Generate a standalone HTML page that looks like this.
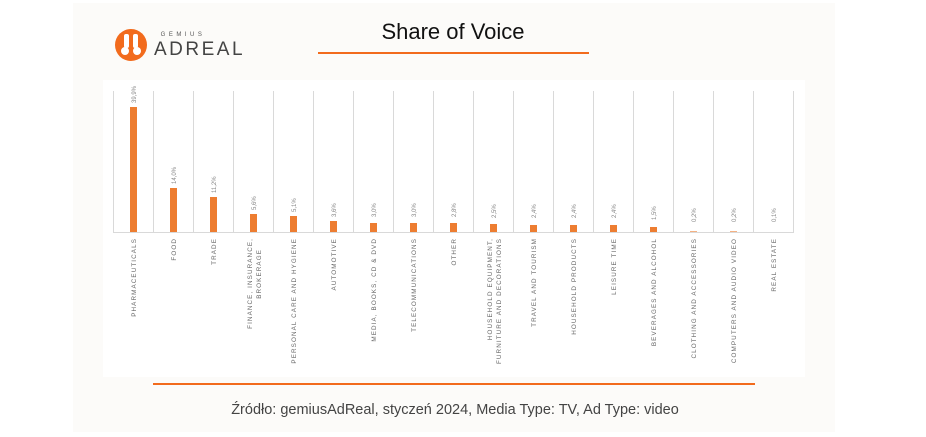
<!DOCTYPE html>
<html><head><meta charset="utf-8"><style>
html,body{margin:0;padding:0;background:#fff;}
svg{display:block;font-family:"Liberation Sans",sans-serif;}
</style></head><body>
<svg width="926" height="437" viewBox="0 0 926 437" xmlns="http://www.w3.org/2000/svg">
<rect x="73" y="3" width="762" height="429" fill="#fcfbf9"/>
<rect x="103" y="80" width="702" height="297" fill="#ffffff"/>
<!-- logo -->
<circle cx="131" cy="45" r="16" fill="#f26b1d"/>
<rect x="124" y="34" width="5" height="14" rx="2" fill="#fff"/>
<rect x="133" y="34" width="5" height="14" rx="2" fill="#fff"/>
<circle cx="125" cy="51" r="4" fill="#fff"/>
<circle cx="137" cy="51" r="4" fill="#fff"/>
<text x="183" y="36" font-size="6" fill="#555" letter-spacing="3.5" text-anchor="middle">GEMIUS</text>
<text x="154" y="55" font-size="19" fill="#444" letter-spacing="2.5">ADREAL</text>
<text x="453" y="39" font-size="22" fill="#111" text-anchor="middle">Share of Voice</text>
<rect x="318" y="52" width="271" height="2" fill="#f26b1d"/>
<g stroke="#d9d9d9" stroke-width="1">
<line x1="113.5" y1="91" x2="113.5" y2="232"/><line x1="153.5" y1="91" x2="153.5" y2="232"/><line x1="193.5" y1="91" x2="193.5" y2="232"/><line x1="233.5" y1="91" x2="233.5" y2="232"/><line x1="273.5" y1="91" x2="273.5" y2="232"/><line x1="313.5" y1="91" x2="313.5" y2="232"/><line x1="353.5" y1="91" x2="353.5" y2="232"/><line x1="393.5" y1="91" x2="393.5" y2="232"/><line x1="433.5" y1="91" x2="433.5" y2="232"/><line x1="473.5" y1="91" x2="473.5" y2="232"/><line x1="513.5" y1="91" x2="513.5" y2="232"/><line x1="553.5" y1="91" x2="553.5" y2="232"/><line x1="593.5" y1="91" x2="593.5" y2="232"/><line x1="633.5" y1="91" x2="633.5" y2="232"/><line x1="673.5" y1="91" x2="673.5" y2="232"/><line x1="713.5" y1="91" x2="713.5" y2="232"/><line x1="753.5" y1="91" x2="753.5" y2="232"/><line x1="793.5" y1="91" x2="793.5" y2="232"/>
<line x1="113" y1="232.5" x2="794" y2="232.5"/>
</g>
<g fill="#ed7d31">
<rect x="130" y="107" width="7" height="125"/>
<rect x="170" y="188" width="7" height="44"/>
<rect x="210" y="197" width="7" height="35"/>
<rect x="250" y="214" width="7" height="18"/>
<rect x="290" y="216" width="7" height="16"/>
<rect x="330" y="221" width="7" height="11"/>
<rect x="370" y="223" width="7" height="9"/>
<rect x="410" y="223" width="7" height="9"/>
<rect x="450" y="223" width="7" height="9"/>
<rect x="490" y="224" width="7" height="8"/>
<rect x="530" y="225" width="7" height="7"/>
<rect x="570" y="225" width="7" height="7"/>
<rect x="610" y="225" width="7" height="7"/>
<rect x="650" y="227" width="7" height="5"/>
<rect x="690" y="231" width="7" height="1" fill="#f4b183"/>
<rect x="730" y="231" width="7" height="1" fill="#f4b183"/>
</g>
<g font-size="6" fill="#888">
<text transform="translate(136,103) rotate(-90)">39,9%</text>
<text transform="translate(176,184) rotate(-90)">14,0%</text>
<text transform="translate(216,193) rotate(-90)">11,2%</text>
<text transform="translate(256,210) rotate(-90)">5,6%</text>
<text transform="translate(296,212) rotate(-90)">5,1%</text>
<text transform="translate(336,217) rotate(-90)">3,6%</text>
<text transform="translate(376,217) rotate(-90)">3,0%</text>
<text transform="translate(416,217) rotate(-90)">3,0%</text>
<text transform="translate(456,217) rotate(-90)">2,8%</text>
<text transform="translate(496,218) rotate(-90)">2,5%</text>
<text transform="translate(536,218) rotate(-90)">2,4%</text>
<text transform="translate(576,218) rotate(-90)">2,4%</text>
<text transform="translate(616,218) rotate(-90)">2,4%</text>
<text transform="translate(656,220) rotate(-90)">1,5%</text>
<text transform="translate(696,222) rotate(-90)">0,2%</text>
<text transform="translate(736,222) rotate(-90)">0,2%</text>
<text transform="translate(776,222) rotate(-90)">0,1%</text>
</g>
<g font-size="6.3" fill="#666" letter-spacing="1.1" text-anchor="end">
<text transform="translate(136,238) rotate(-90)">PHARMACEUTICALS</text>
<text transform="translate(176,238) rotate(-90)">FOOD</text>
<text transform="translate(216,238) rotate(-90)">TRADE</text>
<text transform="translate(252,238) rotate(-90)">FINANCE, INSURANCE,</text>
<text transform="translate(261,249) rotate(-90)">BROKERAGE</text>
<text transform="translate(296,238) rotate(-90)">PERSONAL CARE AND HYGIENE</text>
<text transform="translate(336,238) rotate(-90)">AUTOMOTIVE</text>
<text transform="translate(376,238) rotate(-90)">MEDIA, BOOKS, CD &amp; DVD</text>
<text transform="translate(416,238) rotate(-90)">TELECOMMUNICATIONS</text>
<text transform="translate(456,238) rotate(-90)">OTHER</text>
<text transform="translate(492,238) rotate(-90)">HOUSEHOLD EQUIPMENT,</text>
<text transform="translate(501,238) rotate(-90)">FURNITURE AND DECORATIONS</text>
<text transform="translate(536,238) rotate(-90)">TRAVEL AND TOURISM</text>
<text transform="translate(576,238) rotate(-90)">HOUSEHOLD PRODUCTS</text>
<text transform="translate(616,238) rotate(-90)">LEISURE TIME</text>
<text transform="translate(656,238) rotate(-90)">BEVERAGES AND ALCOHOL</text>
<text transform="translate(696,238) rotate(-90)">CLOTHING AND ACCESSORIES</text>
<text transform="translate(736,238) rotate(-90)">COMPUTERS AND AUDIO VIDEO</text>
<text transform="translate(776,238) rotate(-90)">REAL ESTATE</text>
</g>
<rect x="153" y="383" width="602" height="2" fill="#f26b1d"/>
<text x="455" y="414" font-size="14.5" fill="#444" text-anchor="middle">Źródło: gemiusAdReal, styczeń 2024, Media Type: TV, Ad Type: video</text>
</svg>
</body></html>
